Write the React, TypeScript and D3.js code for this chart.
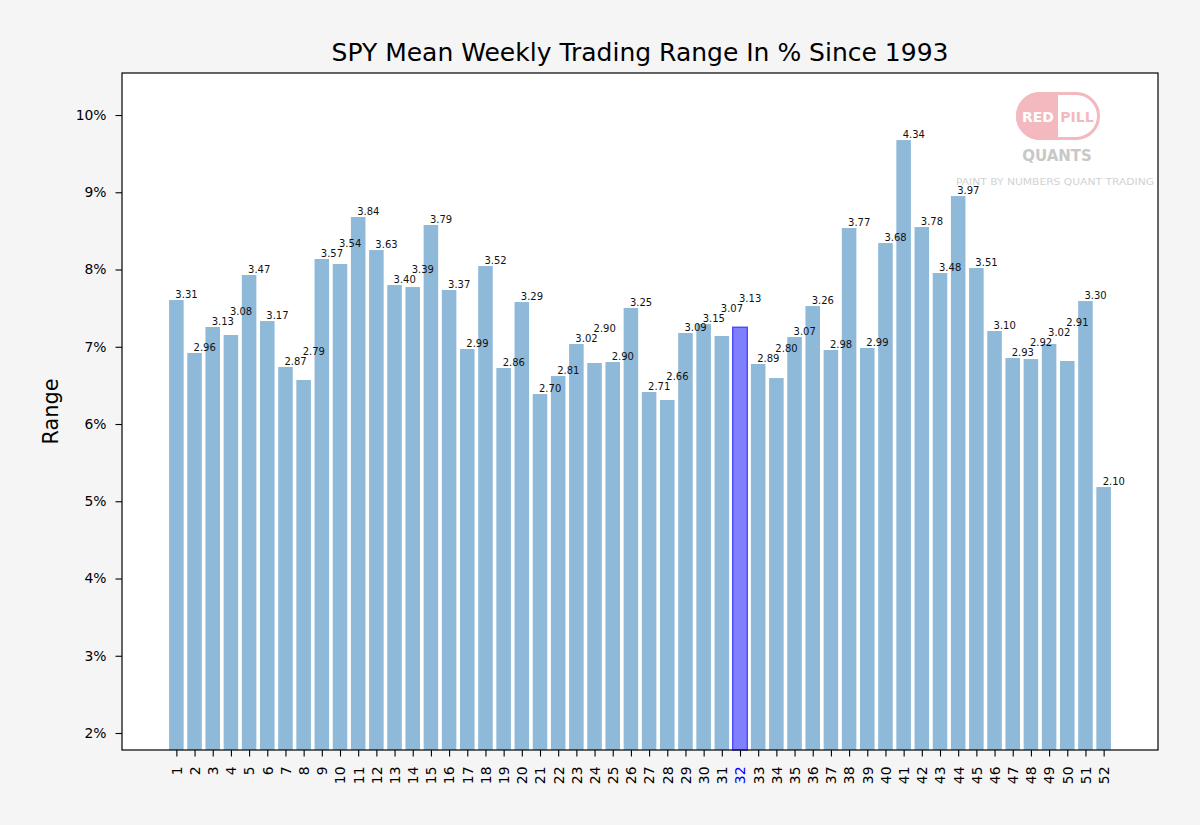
import { useEffect, useRef } from "react";
import * as d3 from "d3";

// Week numbers on the x axis
const weeks = [
    1, 2, 3, 4, 5, 6, 7, 8, 9, 10, 11, 12, 13,
    14, 15, 16, 17, 18, 19, 20, 21, 22, 23, 24, 25, 26,
    27, 28, 29, 30, 31, 32, 33, 34, 35, 36, 37, 38, 39,
    40, 41, 42, 43, 44, 45, 46, 47, 48, 49, 50, 51, 52,
];

// Bar heights (mean weekly range, %)
const meanRange = [
    7.605, 6.92, 7.256, 7.152, 7.929, 7.333, 6.738, 6.57, 8.136, 8.071, 8.68, 8.252, 7.799,
    7.773, 8.576, 7.735, 6.971, 8.045, 6.725, 7.579, 6.388, 6.621, 7.036, 6.79, 6.803, 7.502,
    6.414, 6.311, 7.178, 7.294, 7.139, 7.252, 6.777, 6.595, 7.126, 7.527, 6.958, 8.537, 6.984,
    8.343, 9.676, 8.55, 7.955, 8.951, 8.019, 7.204, 6.854, 6.841, 7.036, 6.816, 7.592, 5.184,
];

// Values printed above each bar
const barLabels = [
    3.31, 2.96, 3.13, 3.08, 3.47, 3.17, 2.87, 2.79, 3.57, 3.54, 3.84, 3.63, 3.40,
    3.39, 3.79, 3.37, 2.99, 3.52, 2.86, 3.29, 2.70, 2.81, 3.02, 2.90, 2.90, 3.25,
    2.71, 2.66, 3.09, 3.15, 3.07, 3.13, 2.89, 2.80, 3.07, 3.26, 2.98, 3.77, 2.99,
    3.68, 4.34, 3.78, 3.48, 3.97, 3.51, 3.10, 2.93, 2.92, 3.02, 2.91, 3.30, 2.10,
];

const currentWeek = 32;
const yTicks = [2, 3, 4, 5, 6, 7, 8, 9, 10];

const W = 1200;
const H = 825;
const margin = { top: 73, right: 42, bottom: 75, left: 122 };
const FONT = "DejaVu Sans, Verdana, sans-serif";

const App: React.FC = () => {
    const svgRef = useRef<SVGSVGElement | null>(null);

    useEffect(() => {
        if (!svgRef.current) return;
        const svg = d3.select(svgRef.current);
        svg.selectAll("*").remove();

        const left = margin.left;
        const right = W - margin.right;
        const top = margin.top;
        const bottom = H - margin.bottom;

        // matplotlib style 5% margins around the bars
        const x0 = weeks[0] - 0.4;
        const x1 = weeks[weeks.length - 1] + 0.4;
        const pad = (x1 - x0) * 0.05;
        const x = d3.scaleLinear().domain([x0 - pad, x1 + pad]).range([left, right]);
        const y = d3.scaleLinear().domain([1.78, 10.544]).range([bottom, top]);

        svg.append("rect").attr("width", W).attr("height", H).attr("fill", "#f5f5f5");
        svg.append("rect")
            .attr("x", left).attr("y", top)
            .attr("width", right - left).attr("height", bottom - top)
            .attr("fill", "#ffffff");

        // Watermark
        const logo = svg.append("g");
        const defs = svg.append("defs");
        defs.append("clipPath").attr("id", "pill")
            .append("rect")
            .attr("x", 1016).attr("y", 92).attr("width", 84).attr("height", 48).attr("rx", 24);
        const pill = logo.append("g").attr("clip-path", "url(#pill)");
        pill.append("rect").attr("x", 1016).attr("y", 92).attr("width", 42).attr("height", 48).attr("fill", "#f4b8bf");
        pill.append("rect").attr("x", 1058).attr("y", 92).attr("width", 42).attr("height", 48).attr("fill", "#ffffff");
        logo.append("rect")
            .attr("x", 1017.5).attr("y", 93.5).attr("width", 81).attr("height", 45).attr("rx", 22.5)
            .attr("fill", "none").attr("stroke", "#f4b8bf").attr("stroke-width", 3);
        logo.append("text").attr("x", 1038).attr("y", 122).attr("text-anchor", "middle")
            .style("font", `bold 14px ${FONT}`).attr("fill", "#ffffff").text("RED");
        logo.append("text").attr("x", 1077).attr("y", 122).attr("text-anchor", "middle")
            .style("font", `bold 14px ${FONT}`).attr("fill", "#f4b8bf").text("PILL");
        logo.append("text").attr("x", 1057).attr("y", 161).attr("text-anchor", "middle")
            .style("font", `bold 15px ${FONT}`).attr("fill", "#c8c8c8").text("QUANTS");
        logo.append("text").attr("x", 956).attr("y", 184.5)
            .attr("textLength", 198).attr("lengthAdjust", "spacingAndGlyphs")
            .style("font", `9.2px ${FONT}`).attr("fill", "#d2d2d2")
            .text("PAINT BY NUMBERS QUANT TRADING");

        // Bars
        svg.append("g")
            .selectAll("rect")
            .data(weeks)
            .join("rect")
            .attr("x", d => x(d - 0.4))
            .attr("width", d => x(d + 0.4) - x(d - 0.4))
            .attr("y", (_, i) => y(meanRange[i]))
            .attr("height", (_, i) => bottom - y(meanRange[i]))
            .attr("fill", d => (d === currentWeek ? "#8080ff" : "#8fb9d9"))
            .attr("stroke", d => (d === currentWeek ? "#4d4dff" : "none"))
            .attr("stroke-width", 1.5);

        // Label placement: push a label up when it would collide with its left neighbour
        const base: number[] = [];
        meanRange.forEach((v, i) => {
            let b = y(v) - 2;
            if (i > 0) {
                const d = b - base[i - 1];
                if (d > -8 && d < 25.5) b = base[i - 1] - 10;
            }
            base.push(b);
        });

        svg.append("g")
            .selectAll("text")
            .data(weeks)
            .join("text")
            .attr("x", d => x(d) - 1)
            .attr("y", (_, i) => base[i])
            .style("font", `10px ${FONT}`)
            .attr("fill", "#111")
            .text((_, i) => barLabels[i].toFixed(2));

        // Y axis
        const yAxis = svg.append("g")
            .attr("transform", `translate(${left},0)`)
            .call(d3.axisLeft(y).tickValues(yTicks).tickFormat(d => `${d}%`).tickSize(6.5).tickPadding(9));
        yAxis.select(".domain").remove();
        yAxis.selectAll("line").attr("stroke", "#000").attr("stroke-width", 1.1);
        yAxis.selectAll("text").style("font", `13.9px ${FONT}`).attr("fill", "#000");

        // X axis
        const xAxis = svg.append("g")
            .attr("transform", `translate(0,${bottom})`)
            .call(d3.axisBottom(x).tickValues(weeks).tickFormat(d => String(d)).tickSize(6.5));
        xAxis.select(".domain").remove();
        xAxis.selectAll("line").attr("stroke", "#000").attr("stroke-width", 1.1);
        xAxis.selectAll("text")
            .style("font", `13.9px ${FONT}`)
            .attr("fill", d => (d === currentWeek ? "#0000ff" : "#000"))
            .attr("transform", "rotate(-90)")
            .attr("x", -16.5)
            .attr("y", 0)
            .attr("dy", "0.35em")
            .style("text-anchor", "end");

        // Frame
        svg.append("rect")
            .attr("x", left).attr("y", top)
            .attr("width", right - left).attr("height", bottom - top)
            .attr("fill", "none").attr("stroke", "#000").attr("stroke-width", 1.2);

        svg.append("text")
            .attr("x", (left + right) / 2).attr("y", 61)
            .attr("text-anchor", "middle")
            .style("font", `25px ${FONT}`).attr("fill", "#000")
            .text("SPY Mean Weekly Trading Range In % Since 1993");

        svg.append("text")
            .attr("transform", `translate(58,${(top + bottom) / 2}) rotate(-90)`)
            .attr("text-anchor", "middle")
            .style("font", `20.8px ${FONT}`).attr("fill", "#000")
            .text("Range");
    }, []);

    return (
        <div style={{ position: "absolute", left: 0, top: 0 }}>
            <svg ref={svgRef} width={W} height={H} style={{ display: "block" }}></svg>
        </div>
    );
};

export default App;
